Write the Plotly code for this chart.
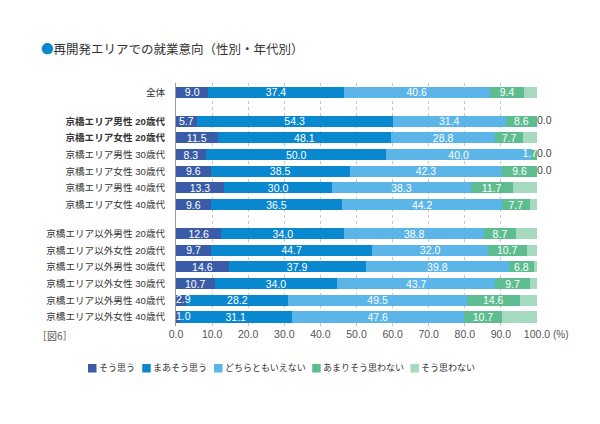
import plotly.graph_objects as go

categories = [
    "全体",
    "京橋エリア男性 20歳代", "京橋エリア女性 20歳代", "京橋エリア男性 30歳代",
    "京橋エリア女性 30歳代", "京橋エリア男性 40歳代", "京橋エリア女性 40歳代",
    "京橋エリア以外男性 20歳代", "京橋エリア以外女性 20歳代", "京橋エリア以外男性 30歳代",
    "京橋エリア以外女性 30歳代", "京橋エリア以外男性 40歳代", "京橋エリア以外女性 40歳代",
]
groups = [0, 1, 1, 1, 1, 1, 1, 2, 2, 2, 2, 2, 2]
bold_cats = ["京橋エリア男性 20歳代", "京橋エリア女性 20歳代"]

series_names = ["そう思う", "まあそう思う", "どちらともいえない", "あまりそう思わない", "そう思わない"]
s1 = [9.0, 5.7, 11.5, 8.3, 9.6, 13.3, 9.6, 12.6, 9.7, 14.6, 10.7, 2.9, 1.0]
s2 = [37.4, 54.3, 48.1, 50.0, 38.5, 30.0, 36.5, 34.0, 44.7, 37.9, 34.0, 28.2, 31.1]
s3 = [40.6, 31.4, 28.8, 40.0, 42.3, 38.3, 44.2, 38.8, 32.0, 39.8, 43.7, 49.5, 47.6]
s4 = [9.4, 8.6, 7.7, 1.7, 9.6, 11.7, 7.7, 8.7, 10.7, 6.8, 9.7, 14.6, 10.7]
s5 = [3.6, 0.0, 3.9, 0.0, 0.0, 6.7, 2.0, 5.9, 2.9, 0.9, 1.9, 4.8, 9.6]
series = [s1, s2, s3, s4, s5]
colors = ["#3a5ca8", "#0a88cf", "#5cb5e8", "#5dbd90", "#a5d9c0"]
x_ticks = [0, 10, 20, 30, 40, 50, 60, 70, 80, 90, 100]

FONT = "Liberation Sans, Noto Sans CJK JP"
JP = "Noto Sans CJK JP"
GROUP_GAP = 0.73
SMALL = 4.0
ypos = [i + groups[i] * GROUP_GAP for i in range(len(categories))]
ticktext = [f"<b>{c}</b>" if c in bold_cats else c for c in categories]

fig = go.Figure()
for k, (name, vals, col) in enumerate(zip(series_names, series, colors)):
    show_text = k < 4
    fig.add_trace(go.Bar(
        x=vals, y=ypos, orientation="h", name=name,
        marker=dict(color=col, line=dict(width=0)),
        width=0.66,
        text=[(f"{v:.1f}" if v >= SMALL else "") for v in vals] if show_text else None,
        textposition="inside" if show_text else "none",
        insidetextanchor="middle",
        textangle=0,
        textfont=dict(color="white", size=10.5, family=FONT),
        cliponaxis=False,
        showlegend=False,
        hoverinfo="x+name",
    ))

txt = dict(color="white", size=10.5, family=FONT)
# small first-series labels, anchored at the bar start
sm1 = [i for i, v in enumerate(s1) if v < SMALL]
fig.add_trace(go.Scatter(
    x=[0] * len(sm1), y=[ypos[i] for i in sm1], mode="text",
    text=[f"{s1[i]:.1f}" for i in sm1], textposition="middle right",
    textfont=txt, showlegend=False, cliponaxis=False, hoverinfo="skip"))
# small fourth-series labels, anchored at the segment end
sm4 = [i for i, v in enumerate(s4) if v < SMALL]
fig.add_trace(go.Scatter(
    x=[s1[i] + s2[i] + s3[i] + s4[i] for i in sm4], y=[ypos[i] for i in sm4], mode="text",
    text=[f"{s4[i]:.1f}" for i in sm4], textposition="middle left",
    textfont=txt, showlegend=False, cliponaxis=False, hoverinfo="skip"))
# zero labels for the last series
zero_i = [i for i, v in enumerate(s5) if v == 0]
fig.add_trace(go.Scatter(
    x=[s1[i] + s2[i] + s3[i] + s4[i] + s5[i] for i in zero_i], y=[ypos[i] for i in zero_i],
    mode="text", text=[f"{s5[i]:.1f}" for i in zero_i], textposition="middle right",
    textfont=dict(color="#444", size=10.5, family=FONT),
    showlegend=False, cliponaxis=False, hoverinfo="skip"))

fig.update_layout(
    width=600, height=424,
    barmode="stack",
    plot_bgcolor="white", paper_bgcolor="white",
    margin=dict(l=168, r=71, t=75, b=106, autoexpand=False),
    font=dict(family=FONT, color="#333", size=10),
    uniformtext=dict(minsize=10.5, mode="show"),
    showlegend=False,
    xaxis=dict(range=[0, 100], tickvals=x_ticks,
               ticktext=[f"{t:.1f}" for t in x_ticks],
               showgrid=True, gridcolor="#c8c8c8", griddash="dot", gridwidth=1,
               zeroline=False, showline=False, ticks="", automargin=False,
               tickfont=dict(size=10.5, color="#555"), fixedrange=True),
    yaxis=dict(range=[ypos[-1] + 0.54, -0.56], tickvals=ypos, ticktext=ticktext,
               showgrid=False, zeroline=False, showline=True, linecolor="#999",
               linewidth=1, ticks="", ticklabelstandoff=8, automargin=False,
               tickfont=dict(size=9.6, color="#333"), fixedrange=True),
)

# legend drawn as squares + text beneath the chart (figure pixel coords -> paper)
PLOT_L, PLOT_W, PLOT_B, PLOT_H = 168, 361, 318, 243
CHAR_W = 8.8
lx = 80
for name, col in zip(series_names, colors):
    fig.add_shape(type="rect", xref="paper", yref="paper",
                  x0=(lx - PLOT_L) / PLOT_W, x1=(lx + 8.5 - PLOT_L) / PLOT_W,
                  y0=(PLOT_B - 364.5) / PLOT_H, y1=(PLOT_B - 356) / PLOT_H,
                  fillcolor=col, line=dict(width=0), layer="above")
    fig.add_annotation(text=name, xref="paper", yref="paper",
                       x=(lx + 9 - PLOT_L) / PLOT_W, y=(PLOT_B - 360) / PLOT_H,
                       xanchor="left", yanchor="middle", showarrow=False,
                       font=dict(size=9, color="#333", family=JP))
    lx += 9 + CHAR_W * len(name) + 10

fig.add_annotation(text="<span style='color:#0a88cf'>●</span>再開発エリアでの就業意向（性別・年代別）",
                   xref="paper", yref="paper", x=-0.38, y=1.143, xanchor="left", yanchor="middle",
                   showarrow=False, font=dict(size=12.5, color="#333", family=JP))
fig.add_annotation(text="［図6］", xref="paper", yref="paper", x=-0.39, y=-0.04,
                   xanchor="left", yanchor="middle", showarrow=False,
                   font=dict(size=10, color="#555", family=JP))
fig.add_annotation(text="(%)", xref="paper", yref="paper", x=1.04, y=-0.035,
                   xanchor="left", yanchor="middle", showarrow=False,
                   font=dict(size=10, color="#555", family=FONT))

fig.write_html("out.html")
